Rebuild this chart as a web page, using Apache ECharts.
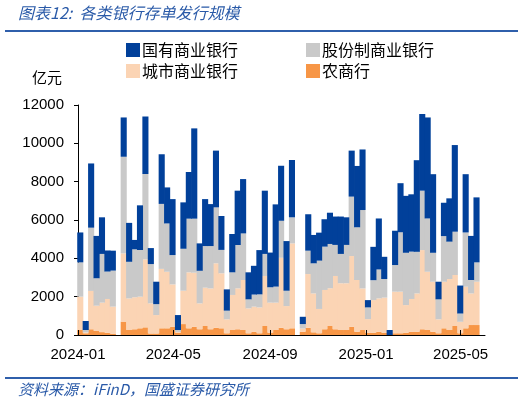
<!DOCTYPE html>
<html>
<head>
<meta charset="utf-8">
<script src="https://cdn.jsdelivr.net/npm/echarts@6/dist/echarts.min.js"></script>
<style>
html,body{margin:0;padding:0;background:#fff;}
#chart{width:526px;height:403px;}
</style>
</head>
<body>
<div id="chart"></div>
<script>
// Weekly issuance (week-ending dates); holiday weeks 2024-02-18 and 2024-10-06 have no data
const weeks = [
'2023-12-31','2024-01-07','2024-01-14','2024-01-21','2024-01-28','2024-02-04','2024-02-11',
'2024-02-25','2024-03-03','2024-03-10','2024-03-17','2024-03-24','2024-03-31','2024-04-07',
'2024-04-14','2024-04-21','2024-04-28','2024-05-05','2024-05-12','2024-05-19','2024-05-26',
'2024-06-02','2024-06-09','2024-06-16','2024-06-23','2024-06-30','2024-07-07','2024-07-14',
'2024-07-21','2024-07-28','2024-08-04','2024-08-11','2024-08-18','2024-08-25','2024-09-01',
'2024-09-08','2024-09-15','2024-09-22','2024-09-29',
'2024-10-13','2024-10-20','2024-10-27','2024-11-03','2024-11-10','2024-11-17','2024-11-24',
'2024-12-01','2024-12-08','2024-12-15','2024-12-22','2024-12-29','2025-01-05','2025-01-12',
'2025-01-19','2025-01-26','2025-02-02','2025-02-09','2025-02-16','2025-02-23','2025-03-02',
'2025-03-09','2025-03-16','2025-03-23','2025-03-30','2025-04-06','2025-04-13','2025-04-20',
'2025-04-27','2025-05-04','2025-05-11','2025-05-18','2025-05-25'
];
// 农商行
const ruralBanks = [
260,90,300,210,150,120,70,
700,260,300,350,400,80,80,
350,350,430,120,570,350,430,
300,470,300,380,350,90,260,
300,260,90,170,90,470,120,
260,380,300,350,
170,380,140,90,300,470,300,
260,260,430,170,260,120,120,
170,120,0,90,90,120,170,
170,300,260,170,90,350,260,
470,90,350,520,520
];
// 城市商业银行
const cityBanks = [
1740,50,2000,1320,1540,1760,1410,
3560,1650,1670,1650,3550,1570,960,
3100,2950,2210,40,1740,2920,2820,
1350,2000,2130,3360,2870,730,1830,
2135,2610,1300,1310,1350,2610,1570,
1430,3650,1210,4430,
170,2800,2030,1270,2050,1970,2780,
2440,2440,3690,2700,2170,710,1700,
1740,1830,0,2170,2170,1440,1710,
2000,4130,3040,2610,730,2430,2660,
2660,600,2170,1650,2260
];
// 股份制商业银行
const jointStockBanks = [
1790,120,3300,1430,2540,1430,1880,
5040,1910,2500,2435,4450,2050,570,
3390,2520,1530,100,2190,2800,2820,
1700,2170,2210,2920,1220,450,1180,
2260,2430,470,630,680,1150,800,
835,1930,800,1360,
230,1220,1570,2520,2260,2310,1620,
1530,2000,3100,2750,4090,610,1040,
1510,970,0,1390,3100,2730,2470,
2170,3100,2780,1510,1040,2380,1950,
2260,430,2830,700,1010
];
// 国有商业银行
const stateOwnedBanks = [
1560,470,3350,2210,1910,1100,1040,
2050,2030,490,2330,3000,835,1170,
2590,1880,2920,780,2420,2435,4710,
1430,2450,2190,2960,1770,1110,2000,
2835,2835,1410,1500,2310,3300,1810,
4290,2870,2590,2990,
380,1900,1480,1460,1430,1630,1480,
1950,1440,2400,3200,3160,380,1740,
2660,1160,260,1790,2560,2970,2990,
4780,4000,5270,4100,920,1740,2260,
4520,1460,3040,2300,3390
];
const xTickDates = ['2024-01-01','2024-05-01','2024-09-01','2025-01-01','2025-05-01'];
const seriesNames = ['农商行','城市商业银行','股份制商业银行','国有商业银行'];
const seriesColors = ['#F79646','#FBD4B4','#C9C9C9','#01409A'];
const seriesValues = [ruralBanks, cityBanks, jointStockBanks, stateOwnedBanks];

const FONT = '"Liberation Sans", "Noto Sans CJK SC", sans-serif';
const CJK = '"Noto Sans CJK SC", "Liberation Sans", sans-serif';
const BLUE_TXT = '#2A5AA8';

const ts = d => +echarts.time.parse(d);
const chart = echarts.init(document.getElementById('chart'), null, {renderer:'canvas'});
const tickVals = xTickDates.map(ts);
const xMin = ts('2024-01-01'), xMax = ts('2025-06-01');

const legendPos = [
  {name:'国有商业银行', left:126, top:42},
  {name:'股份制商业银行', left:306, top:42},
  {name:'城市商业银行', left:126, top:63},
  {name:'农商行', left:306, top:63}
];

chart.setOption({
  animation:false,
  textStyle:{fontFamily:FONT},
  grid:{left:78, right:41, top:105, bottom:68, containLabel:false},
  legend: legendPos.map(p => ({
    data:[p.name], left:p.left, top:p.top, padding:0,
    icon:'rect', itemWidth:14, itemHeight:14,
    textStyle:{fontFamily:CJK, fontSize:16, color:'#000', padding:[0,0,0,-3]},
    selectedMode:false
  })),
  xAxis:[
    {
      type:'time', min:xMin, max:xMax,
      splitLine:{show:false},
      axisLine:{show:true, onZero:false, lineStyle:{color:'#000', width:1}},
      axisTick:{show:false}, axisLabel:{show:false}, minorTick:{show:false}
    },
    {
      type:'value', min:xMin, max:xMax, position:'bottom', z:5,
      splitLine:{show:false},
      axisLine:{show:false, onZero:false},
      axisTick:{show:true, inside:true, length:5, customValues:tickVals, lineStyle:{color:'#000'}},
      axisLabel:{
        customValues:tickVals, fontSize:15, color:'#000', margin:12, fontFamily:FONT,
        showMinLabel:true, showMaxLabel:true,
        formatter: v => echarts.time.format(v, '{yyyy}-{MM}', false)
      }
    }
  ],
  yAxis:{
    type:'value', min:0, max:12000, interval:2000,
    name:'亿元', nameLocation:'end', nameGap:20,
    nameTextStyle:{fontFamily:CJK, fontSize:15, color:'#000', align:'right', padding:[0,16,0,0]},
    splitLine:{show:false},
    axisLine:{show:true, lineStyle:{color:'#000', width:1}},
    axisTick:{show:true, inside:false, length:4, lineStyle:{color:'#000'}},
    axisLabel:{fontSize:15, color:'#000', margin:14, fontFamily:FONT, formatter: v => String(v)}
  },
  graphic:[
    {type:'text', left:18, top:5, style:{text:'图表12:  各类银行存单发行规模', font:'italic 16px ' + CJK, fill:BLUE_TXT}},
    {type:'line', shape:{x1:5, y1:31, x2:518, y2:31}, style:{stroke:'#2F5FAB', lineWidth:2}},
    {type:'line', shape:{x1:5, y1:378, x2:518, y2:378}, style:{stroke:'#2F5FAB', lineWidth:2}},
    {type:'text', left:18, top:382, style:{text:'资料来源：iFinD，国盛证券研究所', font:'italic 15px ' + CJK, fill:BLUE_TXT}}
  ],
  series: seriesNames.map((n, k) => ({
    name:n, type:'bar', stack:'total', barWidth:6.1, xAxisIndex:0,
    itemStyle:{color:seriesColors[k]},
    data: weeks.map((d, i) => [d, seriesValues[k][i]]),
    clip:true
  }))
});
</script>
</body>
</html>
